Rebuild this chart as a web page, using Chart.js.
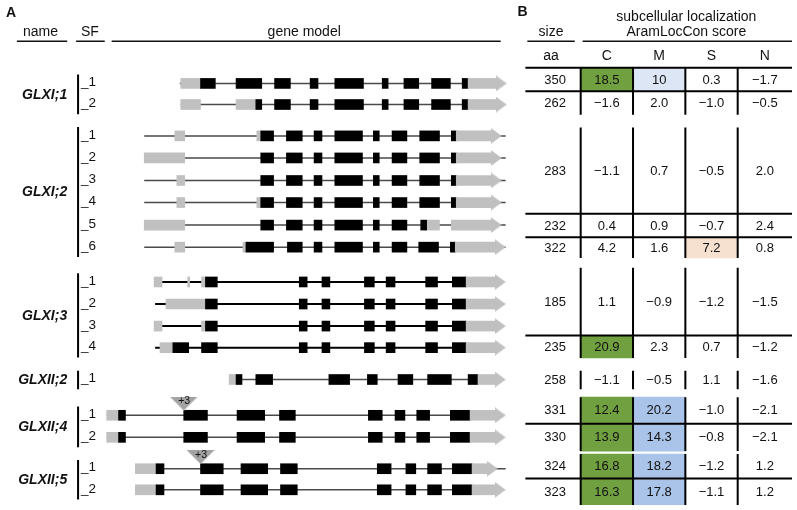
<!DOCTYPE html>
<html><head><meta charset="utf-8">
<script src="https://cdn.jsdelivr.net/npm/chart.js@4.4.1/dist/chart.umd.min.js"></script>
<style>html,body{margin:0;padding:0;background:#fff}#wrap{width:797px;height:510px;position:relative}</style>
</head><body><div id="wrap"><canvas id="c"></canvas></div>
<script>
// ================= DATA =================
// Panel A: gene models (positions along the gene-model track)
const geneNames = ['GLXI;1', 'GLXI;2', 'GLXI;3', 'GLXII;2', 'GLXII;4', 'GLXII;5'];
const isoformCounts = [2, 6, 4, 1, 2, 2];
const isoformLabels = ['_1','_2', '_1','_2','_3','_4','_5','_6', '_1','_2','_3','_4', '_1', '_1','_2', '_1','_2'];

const intronSpans = [
  [177,469],[178,469],
  [141,507],[141,507],[141,507],[141,507],[141,507],[141,507],
  [151,467],[152,467],[151,467],[152,467],
  [227,479],
  [103,471],[103,471],
  [132,507],[132,473]
];
const utrParts = [
  [[178,198]],
  [[178,198],[234,254]],
  [[172,182],[255,259]],
  [[141,182]],
  [[174,182]],
  [[174,182],[255,259]],
  [[141,182],[427,440]],
  [[172,182],[241,244]],
  [[151,159],[185,187],[199,203]],
  [[163,203]],
  [[151,159],[199,203]],
  [[157,170]],
  [[227,234]],
  [[103,115]],
  [[103,115]],
  [[132,153]],
  [[132,153]]
];
const cdsParts = [
  [[198,213],[234,260],[273,289],[309,317],[334,363],[382,388],[404,419],[432,451],[463,469]],
  [[254,260],[273,289],[309,317],[334,363],[382,388],[404,419],[432,451],[463,469]],
  [[259,272],[285,301],[313,321],[334,362],[373,379],[392,407],[420,440],[452,457]],
  [[259,272],[285,301],[313,321],[334,362],[373,379],[392,407],[420,440],[452,457]],
  [[259,272],[285,301],[313,321],[334,362],[373,379],[392,407],[420,440],[452,457]],
  [[259,272],[285,301],[313,321],[334,362],[373,379],[392,407],[420,440],[452,457]],
  [[259,272],[285,301],[313,321],[334,362],[373,379],[392,407],[421,427]],
  [[244,272],[286,301],[313,321],[334,362],[373,379],[392,407],[419,439],[451,456]],
  [[203,215],[298,306],[321,329],[364,374],[386,395],[426,438],[453,467]],
  [[203,215],[298,306],[321,329],[364,374],[386,395],[426,438],[453,467]],
  [[203,215],[298,306],[321,329],[364,374],[386,395],[426,438],[453,467]],
  [[170,186],[199,215],[298,306],[321,329],[364,374],[386,395],[426,438],[453,467]],
  [[234,240],[254,271],[328,349],[367,377],[398,413],[428,452],[469,479]],
  [[115,122],[181,205],[235,263],[278,294],[368,382],[395,405],[417,430],[451,471]],
  [[115,122],[181,205],[235,263],[278,294],[368,382],[395,405],[417,430],[451,471]],
  [[153,161],[198,221],[239,266],[279,296],[377,391],[406,416],[428,442],[453,473]],
  [[153,161],[198,221],[239,266],[279,296],[377,391],[406,416],[428,442],[453,473]]
];
const arrowSpans = [
  [469,508],[469,508],
  [457,503],[457,503],[457,503],[457,503],[452,503],[456,507],
  [467,507],[467,507],[467,507],[467,507],
  [479,507],
  [471,507],[471,507],
  [473,499],[473,507]
];
const insertionIsoform = [13, 15];
const insertionPos = [181, 198];
const insertionLabel = ['+3', '+3'];

// Panel B: table
const tableCols = ['C', 'M', 'S', 'N'];
const sizeAA = [350, 262, 283, 232, 322, 185, 235, 258, 331, 330, 324, 323];
const scoreC = [18.5, -1.6, -1.1, 0.4, 4.2, 1.1, 20.9, -1.1, 12.4, 13.9, 16.8, 16.3];
const scoreM = [10, 2.0, 0.7, 0.9, 1.6, -0.9, 2.3, -0.5, 20.2, 14.3, 18.2, 17.8];
const scoreS = [0.3, -1.0, -0.5, -0.7, 7.2, -1.2, 0.7, 1.1, -1.0, -0.8, -1.2, -1.1];
const scoreN = [-1.7, -0.5, 2.0, 2.4, 0.8, -1.5, -1.2, -1.6, -2.1, -2.1, 1.2, 1.2];
const tableGroups = [[0,1],[2,3,4],[5,6],[7],[8,9],[10,11]];

// ================= LAYOUT (figure units) =================
const rowY = [80,101.5, 133.5,156,179,201.5,224.5,247, 282.5,305,327.5,349.5, 382, 418.5,441, 473,494.5];
const tableRowEdges = [[64,88],[88,112],[125,213],[213,237],[237,258],[268,337],[337,360],[373,392],[400,427],[427,455],[458,483],[483,510]];
const colEdges = [527, 583, 636, 689, 742, 797];
const exonH = 10, headLen = 11, headH = 16;
const FONT = '"Liberation Sans", Arial, Helvetica, sans-serif';

// ================= BUILD =================
const fmt = v => {
  const s = (Number.isInteger(v) && Math.abs(v) >= 10) ? String(Math.abs(v)) : Math.abs(v).toFixed(1);
  return (v < 0 ? '\u2212' : '') + s;
};
const groupStart = [];
{ let k = 0; isoformCounts.forEach(n => { groupStart.push(k); k += n; }); }
const isGLXI3 = i => i >= groupStart[2] && i < groupStart[2] + isoformCounts[2];

const intronGrey = [], intronBlack = [];
intronSpans.forEach((s, i) => {
  const arr = isGLXI3(i) ? intronBlack : intronGrey;
  arr.push({x: s[0], y: rowY[i]}, {x: s[1], y: rowY[i]}, {x: s[1], y: null});
});

const exonBars = [];
utrParts.forEach((parts, i) => parts.forEach(p => exonBars.push({x: p, y: rowY[i], kind: 'utr'})));
cdsParts.forEach((parts, i) => parts.forEach(p => exonBars.push({x: p, y: rowY[i], kind: 'cds'})));
arrowSpans.forEach((a, i) => exonBars.push({x: [a[0], a[1] - headLen], y: rowY[i], kind: 'utr'}));
const arrowHeads = arrowSpans.map((a, i) => ({x: a[1] - headLen / 2, y: rowY[i]}));
const insertPts = insertionIsoform.map((iso, k) => ({x: insertionPos[k], y: rowY[iso] - exonH / 2 - 7}));

function cellColor(col, v) {
  if (col === 'C' && v >= 10) return '#71a040';
  if (col === 'M' && v >= 14) return '#a9c4e8';
  if (col === 'M' && v >= 10) return '#dde6f5';
  if (col === 'S' && v >= 5) return '#f6e0cf';
  return null;
}
const scoreSets = [scoreC, scoreM, scoreS, scoreN];
const cellBars = [];
sizeAA.forEach((_, r) => {
  tableCols.forEach((col, c) => {
    const v = scoreSets[c][r];
    const color = cellColor(col, v);
    if (color) cellBars.push({x: (colEdges[c + 1] + colEdges[c + 2]) / 2, y: tableRowEdges[r], color});
  });
});

// table rules
const rules = [];
const seg = (x0, y0, x1, y1, arr) => arr.push({x: x0, y: y0}, {x: x1, y: y1}, {x: x1, y: null});
seg(colEdges[0], tableRowEdges[0][0], colEdges[5], tableRowEdges[0][0], rules);
tableGroups.forEach(g => {
  const top = tableRowEdges[g[0]][0], bot = tableRowEdges[g[g.length - 1]][1];
  for (let c = 1; c <= 4; c++) seg(colEdges[c], top, colEdges[c], bot, rules);
  for (let j = 0; j < g.length - 1; j++) seg(colEdges[0], tableRowEdges[g[j]][1], colEdges[5], tableRowEdges[g[j]][1], rules);
});
// brackets
geneNames.forEach((_, g) => {
  const a = groupStart[g], b = a + isoformCounts[g] - 1;
  seg(74, rowY[a] - 9, 74, rowY[b] + 10, rules);
});
// header underlines
const headRules = [];
seg(12, 37, 63, 37, headRules);
seg(72, 37, 101, 37, headRules);
seg(108, 37, 502, 37, headRules);
seg(529, 37, 577, 37, headRules);
seg(585, 37, 797, 37, headRules);

function shapeCanvas(w, h, color, pts) {
  const c = document.createElement('canvas'); c.width = w; c.height = h;
  const g = c.getContext('2d'); g.fillStyle = color; g.beginPath();
  g.moveTo(pts[0][0], pts[0][1]); for (let i = 1; i < pts.length; i++) g.lineTo(pts[i][0], pts[i][1]);
  g.closePath(); g.fill(); return c;
}
const headImg = shapeCanvas(headLen, headH, '#c0c0c0', [[0,0],[headLen,headH/2],[0,headH]]);
const insImg = shapeCanvas(28, 14, '#a3a3a3', [[0,0],[28,0],[14,14]]);

const labelPlugin = {
  id: 'labels',
  afterDatasetsDraw(chart) {
    const {ctx} = chart;
    const X = v => chart.scales.x.getPixelForValue(v), Y = v => chart.scales.y.getPixelForValue(v);
    ctx.save();
    ctx.fillStyle = '#111';
    ctx.textBaseline = 'middle';
    const put = (t, x, y, font, align) => { ctx.font = font; ctx.textAlign = align || 'center'; ctx.fillText(t, X(x), Y(y)); };
    const hf = '14px ' + FONT;
    put('A', 1, 8, 'bold 14px ' + FONT, 'left');
    put('B', 519, 7, 'bold 14px ' + FONT, 'left');
    put('name', 36, 28, hf); put('SF', 86, 28, hf); put('gene model', 303, 28, hf);
    put('size', 553, 28, hf);
    put('subcellular localization', 690, 12, hf);
    put('AramLocCon score', 690, 28, hf);
    put('aa', 553, 52, hf);
    tableCols.forEach((c, i) => put(c, (colEdges[i + 1] + colEdges[i + 2]) / 2, 52, hf));
    // gene names and isoform labels
    geneNames.forEach((n, g) => {
      const a = groupStart[g], b = a + isoformCounts[g] - 1;
      put(n, 63, (rowY[a] + rowY[b]) / 2 + 1, 'italic bold 14px ' + FONT, 'right');
    });
    isoformLabels.forEach((l, i) => put(l, 77, rowY[i] - 1, '13.5px ' + FONT, 'left'));
    insertionLabel.forEach((l, k) => put(l, insertionPos[k] + 0.5, rowY[insertionIsoform[k]] - exonH / 2 - 9, '10.5px ' + FONT));
    // table values
    const tf = '13px ' + FONT;
    sizeAA.forEach((s, r) => {
      const yc = (tableRowEdges[r][0] + tableRowEdges[r][1]) / 2 + 0.5;
      put(String(s), (colEdges[0] + colEdges[1]) / 2 + 2, yc, tf);
      scoreSets.forEach((arr, c) => put(fmt(arr[r]), (colEdges[c + 1] + colEdges[c + 2]) / 2, yc, tf));
    });
    ctx.restore();
  }
};

const lineDs = (data, color, width, order) => ({
  type: 'line', data, borderColor: color, borderWidth: width, pointRadius: 0, showLine: true,
  spanGaps: false, tension: 0, fill: false, order, xAxisID: 'x', yAxisID: 'y', clip: false
});

new Chart(document.getElementById('c'), {
  type: 'scatter',
  data: {
    datasets: [
      {type: 'bar', indexAxis: 'x', xAxisID: 'x2', yAxisID: 'y2', data: cellBars, grouped: false,
        backgroundColor: ctx => (ctx.raw && ctx.raw.color) || '#fff', barThickness: colEdges[2] - colEdges[1],
        borderWidth: 0, order: 9},
      lineDs(intronGrey, '#4a4a4a', 1.5, 8),
      lineDs(intronBlack, '#000', 2, 8),
      {type: 'bar', indexAxis: 'y', xAxisID: 'x', yAxisID: 'y', data: exonBars, grouped: false,
        backgroundColor: ctx => (ctx.raw && ctx.raw.kind === 'cds') ? '#000' : '#c0c0c0',
        barThickness: exonH, borderWidth: 0, order: 7},
      {type: 'scatter', data: arrowHeads, pointStyle: headImg, pointRadius: 1, order: 6, xAxisID: 'x', yAxisID: 'y'},
      {type: 'scatter', data: insertPts, pointStyle: insImg, pointRadius: 1, order: 5, xAxisID: 'x', yAxisID: 'y'},
      lineDs(rules, '#000', 2, 2),
      lineDs(headRules, '#111', 1.3, 2)
    ]
  },
  options: {
    responsive: true, maintainAspectRatio: false, animation: false, events: [],
    layout: {padding: 0},
    plugins: {legend: {display: false}, tooltip: {enabled: false}},
    scales: {
      x: {type: 'linear', min: 0, max: 797, display: false, offset: false},
      y: {type: 'linear', min: 0, max: 510, reverse: true, display: false, offset: false},
      x2: {type: 'linear', axis: 'x', min: 0, max: 797, display: false, offset: false},
      y2: {type: 'linear', axis: 'y', min: 0, max: 510, reverse: true, display: false, offset: false}
    }
  },
  plugins: [labelPlugin]
});
</script></body></html>
